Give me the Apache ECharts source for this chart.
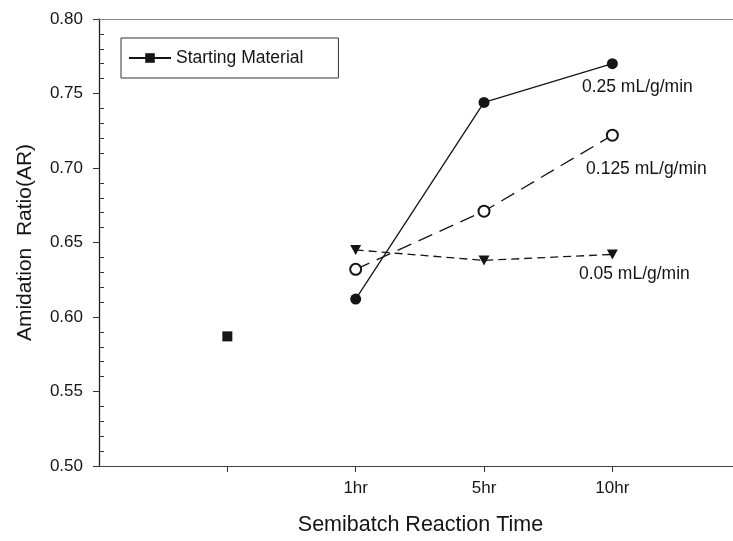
<!DOCTYPE html>
<html>
<head>
<meta charset="utf-8">
<script src="https://cdn.jsdelivr.net/npm/echarts@6/dist/echarts.min.js"></script>
<style>
  html, body { margin: 0; padding: 0; background: #fff; }
  #chart { width: 733px; height: 541px; }
</style>
</head>
<body>
<div id="chart"></div>
<script>
// Sampling times along the x axis; the blank slot holds the starting material.
const timeLabels = ['', '1hr', '5hr', '10hr'];

// Amidation ratio values
const startingMaterial = [0.587];            // at the blank slot
const flow025 = [0.612, 0.744, 0.770];       // 1hr, 5hr, 10hr
const flow0125 = [0.632, 0.671, 0.722];
const flow005 = [0.645, 0.638, 0.642];

const seriesNames = ['Starting Material', '0.25 mL/g/min', '0.125 mL/g/min', '0.05 mL/g/min'];

// Y axis ticks
const yMin = 0.50, yMax = 0.80, yStep = 0.05;

// X axis: slot k of timeLabels sits at position k + 1; the frame is cut off at the right.
const xMin = 0, xMax = 4.94;
const slotPositions = timeLabels.map((_, k) => k + 1);

// Pair values with the x position of their time slot, starting at a given label.
function placeOnSlots(values, firstLabel) {
  const start = timeLabels.indexOf(firstLabel);
  return values.map((v, k) => [slotPositions[start + k], v]);
}

const ink = '#151515';
const font = '"Liberation Sans", Arial, sans-serif';

const lastSlot = slotPositions[timeLabels.indexOf('10hr')];

function endLabel(name, offset) {
  return {
    show: true,
    position: 'bottom',
    offset: offset,
    color: ink,
    fontFamily: font,
    fontSize: 17.5,
    formatter: p => (p.value[0] === lastSlot ? name : '')
  };
}

const chart = echarts.init(document.getElementById('chart'), null, { renderer: 'canvas' });
chart.setOption({
  animation: false,
  backgroundColor: '#fff',
  textStyle: { fontFamily: font, color: ink },
  grid: { left: 99, top: 19, right: 0, bottom: 69, containLabel: false },
  legend: {
    data: [seriesNames[0]],
    left: 121,
    top: 38,
    padding: [11, 35, 11, 7],
    borderColor: '#333',
    borderWidth: 1,
    itemWidth: 42,
    itemHeight: 12,
    textStyle: { fontFamily: font, fontSize: 17.5, color: ink }
  },
  xAxis: [
    {
      type: 'value',
      min: xMin,
      max: xMax,
      name: 'Semibatch Reaction Time',
      nameLocation: 'middle',
      nameGap: 48,
      nameTextStyle: { fontFamily: font, fontSize: 21.5, color: ink, padding: [0, 0, 0, 9] },
      axisLine: { show: true, onZero: false, lineStyle: { color: '#444', width: 1.2 } },
      axisTick: {
        show: true,
        length: 6,
        customValues: slotPositions,
        lineStyle: { color: '#333' }
      },
      axisLabel: {
        margin: 14,
        fontFamily: font,
        fontSize: 17,
        color: ink,
        customValues: slotPositions,
        formatter: v => timeLabels[Math.round(v) - 1] ?? ''
      },
      splitLine: { show: false }
    },
    {
      type: 'value',
      min: xMin,
      max: xMax,
      position: 'top',
      axisLine: { show: true, onZero: false, lineStyle: { color: '#888', width: 1 } },
      axisTick: { show: false },
      axisLabel: { show: false },
      splitLine: { show: false }
    }
  ],
  yAxis: [
    {
      type: 'value',
      min: yMin,
      max: yMax,
      interval: yStep,
      position: 'left',
      name: 'Amidation  Ratio(AR)',
      nameLocation: 'middle',
      nameGap: 63,
      nameTextStyle: { fontFamily: font, fontSize: 21, color: ink },
      axisLine: { show: true, onZero: false, lineStyle: { color: '#222', width: 1.3 } },
      axisTick: { show: true, length: 6, lineStyle: { color: '#333' } },
      axisLabel: {
        margin: 16,
        fontFamily: font,
        fontSize: 17,
        color: ink,
        formatter: v => v.toFixed(2)
      },
      splitLine: { show: false }
    },
    {
      // minor ticks drawn inside the plot
      type: 'value',
      min: yMin,
      max: yMax,
      interval: yStep,
      position: 'left',
      axisLine: { show: false },
      axisTick: { show: false, inside: true },
      minorTick: { show: true, splitNumber: 5, length: 5, lineStyle: { color: '#333' } },
      axisLabel: { show: false },
      splitLine: { show: false },
      minorSplitLine: { show: false }
    }
  ],
  series: [
    {
      name: seriesNames[0],
      type: 'line',
      data: placeOnSlots(startingMaterial, ''),
      symbol: 'rect',
      symbolSize: 10,
      itemStyle: { color: ink },
      lineStyle: { color: ink, width: 1.3 }
    },
    {
      name: seriesNames[1],
      type: 'line',
      data: placeOnSlots(flow025, '1hr'),
      symbol: 'circle',
      symbolSize: 11,
      itemStyle: { color: ink },
      lineStyle: { color: ink, width: 1.3, type: 'solid' },
      label: endLabel(seriesNames[1], [25, 4])
    },
    {
      name: seriesNames[2],
      type: 'line',
      data: placeOnSlots(flow0125, '1hr'),
      symbol: 'emptyCircle',
      symbolSize: 11,
      itemStyle: { color: ink, borderWidth: 1 },
      lineStyle: { color: ink, width: 1.3, type: [15, 8] },
      label: endLabel(seriesNames[2], [34, 13])
    },
    {
      name: seriesNames[3],
      type: 'line',
      data: placeOnSlots(flow005, '1hr'),
      symbol: 'triangle',
      symbolRotate: 180,
      symbolSize: [11, 10],
      itemStyle: { color: ink },
      lineStyle: { color: ink, width: 1.3, type: [8, 5] },
      label: endLabel(seriesNames[3], [22, 1])
    }
  ]
});
</script>
</body>
</html>
